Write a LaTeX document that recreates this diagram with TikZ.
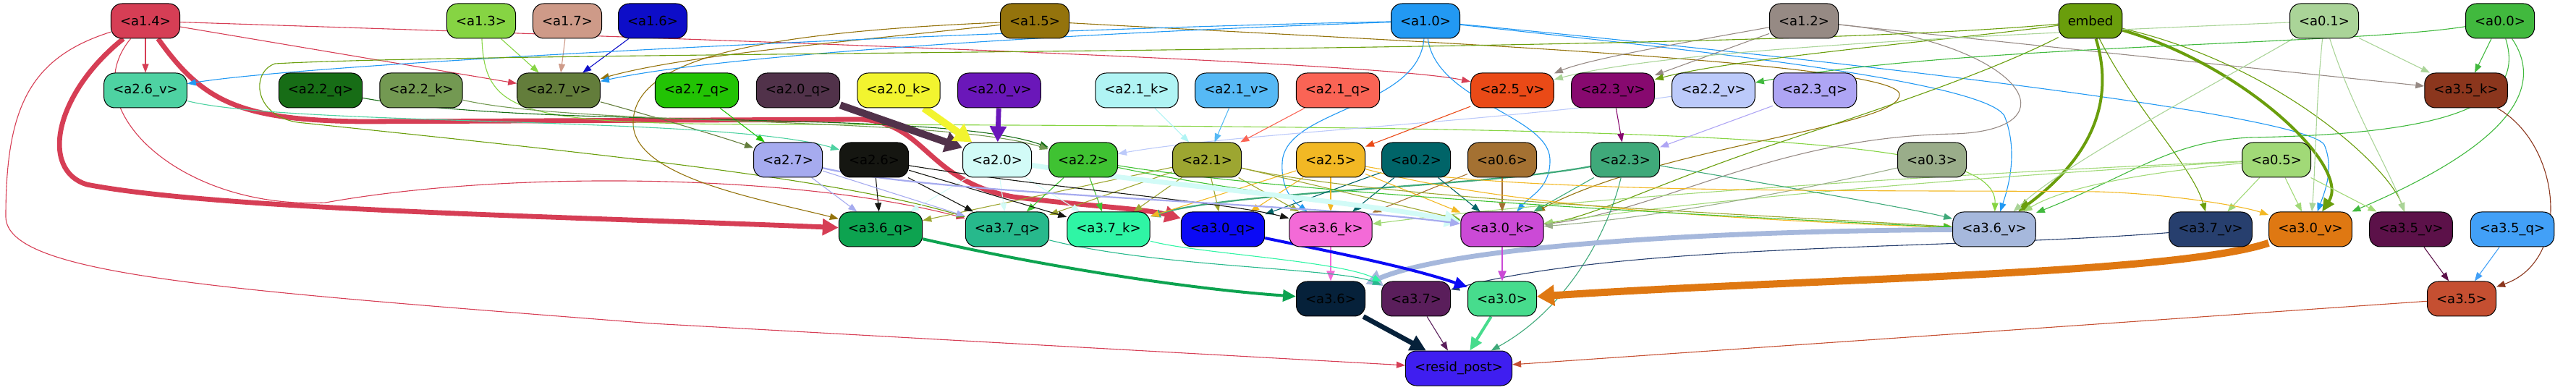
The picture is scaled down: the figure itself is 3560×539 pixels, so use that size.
\documentclass[tikz,border=0pt]{standalone}
\usepackage{fontspec}
\setmainfont{DejaVu Sans}
\usetikzlibrary{arrows.meta}
\pgfdeclarelayer{bg}
\pgfsetlayers{bg,main}
\definecolor{c14}{HTML}{D63E55}
\definecolor{c13}{HTML}{86D443}
\definecolor{c17}{HTML}{CE9A88}
\definecolor{c16}{HTML}{0D0DC8}
\definecolor{c15}{HTML}{94730C}
\definecolor{c10}{HTML}{2299F3}
\definecolor{c12}{HTML}{968A84}
\definecolor{cemb}{HTML}{6A9E0C}
\definecolor{c01}{HTML}{AAD498}
\definecolor{c00}{HTML}{41B93E}
\definecolor{c26v}{HTML}{4ED2A2}
\definecolor{c22q}{HTML}{176D16}
\definecolor{c22k}{HTML}{739952}
\definecolor{c27v}{HTML}{637D3B}
\definecolor{c27q}{HTML}{22C304}
\definecolor{c20q}{HTML}{51324A}
\definecolor{c20k}{HTML}{F2F42F}
\definecolor{c20v}{HTML}{6A17B9}
\definecolor{c21k}{HTML}{B0F4F4}
\definecolor{c21v}{HTML}{56B9F5}
\definecolor{c21q}{HTML}{FA6455}
\definecolor{c25v}{HTML}{EA4A17}
\definecolor{c23v}{HTML}{87096F}
\definecolor{c22v}{HTML}{BCCAFA}
\definecolor{c23q}{HTML}{AEA5F4}
\definecolor{c35k}{HTML}{8B361D}
\definecolor{c27}{HTML}{A6ABEF}
\definecolor{c26}{HTML}{151611}
\definecolor{c20}{HTML}{D2FBF7}
\definecolor{c22}{HTML}{3FC232}
\definecolor{c21}{HTML}{9DA631}
\definecolor{c25}{HTML}{F2B824}
\definecolor{c02}{HTML}{006468}
\definecolor{c06}{HTML}{A47132}
\definecolor{c23}{HTML}{3FA97A}
\definecolor{c03}{HTML}{9AAD8A}
\definecolor{c05}{HTML}{A1D977}
\definecolor{c36q}{HTML}{0DA350}
\definecolor{c37q}{HTML}{27B98C}
\definecolor{c37k}{HTML}{2FF5A5}
\definecolor{c30q}{HTML}{0B0AF5}
\definecolor{c36k}{HTML}{F36AD7}
\definecolor{c30k}{HTML}{CB4AD6}
\definecolor{c36v}{HTML}{A6B8DC}
\definecolor{c37v}{HTML}{273F6E}
\definecolor{c30v}{HTML}{DF7812}
\definecolor{c35v}{HTML}{5C1149}
\definecolor{c35q}{HTML}{42A0F7}
\definecolor{c36}{HTML}{06213A}
\definecolor{c37}{HTML}{5A1E5B}
\definecolor{c30}{HTML}{47DC8D}
\definecolor{c35}{HTML}{C54F31}
\definecolor{cres}{HTML}{3F1EF0}
\tikzset{
  box/.style={draw=black, line width=0.5pt, rounded corners=7.5pt, minimum height=24pt,
    inner xsep=6.3pt, inner ysep=0pt, font=\fontsize{9}{11}\selectfont},
  e/.style={line width=0.55pt, -{Triangle[length=6pt,width=4.5pt]}},
  e2/.style={line width=1.1pt, -{Triangle[length=7pt,width=5.5pt]}},
  e3/.style={line width=2pt, -{Triangle[length=9pt,width=8pt]}},
  e4/.style={line width=3.4pt, -{Triangle[length=11pt,width=11pt]}},
  e5/.style={line width=5pt, -{Triangle[length=12pt,width=14pt]}}
}
\begin{document}
\begin{tikzpicture}[x=0.5pt,y=-0.5pt]
\useasboundingbox (0,0) rectangle (3560,539);
\node[box,fill=c14] (n14) at (201,29) {<a1.4>};
\node[box,fill=c13] (n13) at (665,29) {<a1.3>};
\node[box,fill=c17] (n17) at (784,29) {<a1.7>};
\node[box,fill=c16] (n16) at (902,29) {<a1.6>};
\node[box,fill=c15] (n15) at (1430,29) {<a1.5>};
\node[box,fill=c10] (n10) at (1970,29) {<a1.0>};
\node[box,fill=c12] (n12) at (2493,29) {<a1.2>};
\node[box,fill=cemb] (nemb) at (2889,29) {embed};
\node[box,fill=c01] (n01) at (3212,29) {<a0.1>};
\node[box,fill=c00] (n00) at (3455,29) {<a0.0>};
\node[box,fill=c26v] (n26v) at (201,125) {<a2.6\_v>};
\node[box,fill=c22q] (n22q) at (443,125) {<a2.2\_q>};
\node[box,fill=c22k] (n22k) at (582,125) {<a2.2\_k>};
\node[box,fill=c27v] (n27v) at (772,125) {<a2.7\_v>};
\node[box,fill=c27q] (n27q) at (963,125) {<a2.7\_q>};
\node[box,fill=c20q] (n20q) at (1103,125) {<a2.0\_q>};
\node[box,fill=c20k] (n20k) at (1242,125) {<a2.0\_k>};
\node[box,fill=c20v] (n20v) at (1381,125) {<a2.0\_v>};
\node[box,fill=c21k] (n21k) at (1571,125) {<a2.1\_k>};
\node[box,fill=c21v] (n21v) at (1709,125) {<a2.1\_v>};
\node[box,fill=c21q] (n21q) at (1849,125) {<a2.1\_q>};
\node[box,fill=c25v] (n25v) at (2090,125) {<a2.5\_v>};
\node[box,fill=c23v] (n23v) at (2229,125) {<a2.3\_v>};
\node[box,fill=c22v] (n22v) at (2368,125) {<a2.2\_v>};
\node[box,fill=c23q] (n23q) at (2508,125) {<a2.3\_q>};
\node[box,fill=c35k] (n35k) at (3408,125) {<a3.5\_k>};
\node[box,fill=c27] (n27) at (1089,221) {<a2.7>};
\node[box,fill=c26] (n26) at (1208,221) {<a2.6>};
\node[box,fill=c20] (n20) at (1378,221) {<a2.0>};
\node[box,fill=c22] (n22) at (1497,221) {<a2.2>};
\node[box,fill=c21] (n21) at (1668,221) {<a2.1>};
\node[box,fill=c25] (n25) at (1839,221) {<a2.5>};
\node[box,fill=c02] (n02) at (1957,221) {<a0.2>};
\node[box,fill=c06] (n06) at (2076,221) {<a0.6>};
\node[box,fill=c23] (n23) at (2246,221) {<a2.3>};
\node[box,fill=c03] (n03) at (2670,221) {<a0.3>};
\node[box,fill=c05] (n05) at (3146,221) {<a0.5>};
\node[box,fill=c36q] (n36q) at (1217,317) {<a3.6\_q>};
\node[box,fill=c37q] (n37q) at (1392,317) {<a3.7\_q>};
\node[box,fill=c37k] (n37k) at (1532,317) {<a3.7\_k>};
\node[box,fill=c30q] (n30q) at (1690,317) {<a3.0\_q>};
\node[box,fill=c36k] (n36k) at (1839,317) {<a3.6\_k>};
\node[box,fill=c30k] (n30k) at (2076,317) {<a3.0\_k>};
\node[box,fill=c36v] (n36v) at (2756,317) {<a3.6\_v>};
\node[box,fill=c37v] (n37v) at (3055,317) {<a3.7\_v>};
\node[box,fill=c30v] (n30v) at (3193,317) {<a3.0\_v>};
\node[box,fill=c35v] (n35v) at (3332,317) {<a3.5\_v>};
\node[box,fill=c35q] (n35q) at (3472,317) {<a3.5\_q>};
\node[box,fill=c36] (n36) at (1839,413) {<a3.6>};
\node[box,fill=c37] (n37) at (1957,413) {<a3.7>};
\node[box,fill=c30] (n30) at (2076,413) {<a3.0>};
\node[box,fill=c35] (n35) at (3402,413) {<a3.5>};
\node[box,fill=cres] (nres) at (2016,509) {<resid\_post>};
\begin{pgfonlayer}{bg}
\draw[e,c14] (n14) -- (n26v);
\draw[e,c14] (n14) -- (n27v);
\draw[e,c14] (n14) .. controls (1000,55) and (1900,85) .. (n25v);
\draw[e4,c14] (n14) .. controls (75,130) and (55,235) .. (120,255) .. controls (300,290) and (800,300) .. (n36q);
\draw[e4,c14] (n14) .. controls (280,140) and (330,166) .. (500,168) -- (1190,165) .. controls (1280,170) and (1280,250) .. (1400,272) .. controls (1500,285) and (1580,288) .. (n30q);
\draw[e,c14] (n14) .. controls (100,150) and (250,290) .. (450,280) .. controls (700,235) and (1100,240) .. (n37q);
\draw[e,c14] (n14) .. controls (40,80) and (8,150) .. (8,300) .. controls (10,380) and (300,400) .. (900,447) -- (nres);
\draw[e,c13] (n13) -- (n27v);
\draw[e,c17] (n17) -- (n27v);
\draw[e,c16] (n16) -- (n27v);
\draw[e,c13] (n13) .. controls (670,160) and (720,172) .. (1100,172) .. controls (2400,175) and (2760,190) .. (n36v);
\draw[e,c15] (n15) .. controls (1200,55) and (950,75) .. (n27v);
\draw[e,c15] (n15) .. controls (1050,45) and (875,80) .. (875,170) .. controls (875,245) and (1050,275) .. (n36q);
\draw[e,c15] (n15) .. controls (1900,55) and (2620,85) .. (2625,130) .. controls (2630,175) and (2300,200) .. (n30k);
\draw[e,c10] (n10) .. controls (1500,45) and (1000,75) .. (n27v);
\draw[e,c10] (n10) .. controls (1400,40) and (450,85) .. (n26v);
\draw[e,c10] (n10) .. controls (1960,150) and (1775,150) .. (1772,225) .. controls (1770,265) and (1790,280) .. (n36k);
\draw[e,c10] (n10) .. controls (1985,140) and (2140,160) .. (2142,220) .. controls (2143,260) and (2115,270) .. (n30k);
\draw[e,c10] (n10) .. controls (2300,60) and (3180,150) .. (3212,200) .. controls (3225,230) and (3215,260) .. (n30v);
\draw[e,c10] (n10) .. controls (2300,65) and (2740,110) .. (2770,160) .. controls (2790,210) and (2775,260) .. (n36v);
\draw[e,c12] (n12) .. controls (2350,55) and (2200,80) .. (n25v);
\draw[e,c12] (n12) -- (n23v);
\draw[e,c12] (n12) -- (n35k);
\draw[e,c12] (n12) .. controls (2800,60) and (2870,180) .. (2700,185) .. controls (2450,190) and (2300,290) .. (n30k);
\draw[e3,cemb] (nemb) .. controls (2920,130) and (2900,210) .. (n36v);
\draw[e3,cemb] (nemb) .. controls (3100,90) and (3250,230) .. (n30v);
\draw[e,cemb] (nemb) .. controls (2950,150) and (3030,230) .. (n37v);
\draw[e,cemb] (nemb) .. controls (3150,90) and (3300,230) .. (n35v);
\draw[e,cemb] (nemb) .. controls (2700,55) and (2400,80) .. (n23v);
\draw[e,cemb] (nemb) .. controls (2750,100) and (2600,150) .. (2450,200) .. controls (2300,250) and (2200,300) .. (n30k);
\draw[e,cemb] (nemb) .. controls (2400,75) and (700,70) .. (380,88) .. controls (345,100) and (350,165) .. (420,170) .. controls (800,210) and (1150,245) .. (n37q);
\draw[e,c01] (n01) -- (n35k);
\draw[e,c01] (n01) .. controls (2700,50) and (2300,70) .. (n25v);
\draw[e,c01] (n01) .. controls (3200,150) and (3200,230) .. (n30v);
\draw[e,c01] (n01) .. controls (3000,150) and (2850,230) .. (n36v);
\draw[e,c01] (n01) .. controls (3250,150) and (3300,230) .. (n35v);
\draw[e,c00] (n00) -- (n35k);
\draw[e,c00] (n00) .. controls (3250,62) and (2700,62) .. (n22v);
\draw[e,c00] (n00) .. controls (3530,140) and (3420,220) .. (n30v);
\draw[e,c00] (n00) .. controls (3490,140) and (3400,185) .. (3110,190) .. controls (3000,195) and (2950,240) .. (n36v);
\draw[e,c05] (n05) .. controls (2950,240) and (2850,260) .. (n36v);
\draw[e,c05] (n05) -- (n37v);
\draw[e,c05] (n05) -- (n30v);
\draw[e,c05] (n05) -- (n35v);
\draw[e,c05] (n05) .. controls (2800,240) and (2400,270) .. (n30k);
\draw[e,c05] (n05) .. controls (2800,235) and (2200,270) .. (n36k);
\draw[e,c03] (n03) .. controls (2500,260) and (2300,300) .. (n30k);
\draw[e,c23] (n23) -- (n30k);
\draw[e,c23] (n23) .. controls (2450,255) and (2650,290) .. (n36v);
\draw[e2,c23] (n23) .. controls (2050,258) and (1700,265) .. (n37k);
\draw[e,c23] (n23) .. controls (2220,330) and (2160,430) .. (nres);
\draw[e,c06] (n06) -- (n36k);
\draw[e,c06] (n06) -- (n30k);
\draw[e,c02] (n02) -- (n36k);
\draw[e,c02] (n02) -- (n30k);
\draw[e,c02] (n02) -- (n30q);
\draw[e,c25] (n25) -- (n36k);
\draw[e,c25] (n25) -- (n30k);
\draw[e,c25] (n25) -- (n37k);
\draw[e,c25] (n25) -- (n30q);
\draw[e,c25] (n25) .. controls (2100,290) and (2450,305) .. (n36v);
\draw[e,c25] (n25) .. controls (2100,270) and (2600,262) .. (2900,265) .. controls (3000,268) and (3100,285) .. (n30v);
\draw[e,c21] (n21) -- (n36q);
\draw[e,c21] (n21) -- (n37q);
\draw[e,c21] (n21) -- (n37k);
\draw[e,c21] (n21) -- (n30q);
\draw[e,c21] (n21) -- (n36k);
\draw[e,c21] (n21) -- (n30k);
\draw[e,c21] (n21) .. controls (1900,275) and (2400,295) .. (n36v);
\draw[e,c22] (n22) -- (n37q);
\draw[e,c22] (n22) -- (n37k);
\draw[e,c22] (n22) .. controls (1800,270) and (2400,300) .. (n36v);
\draw[e,c22] (n22) .. controls (1700,265) and (1950,290) .. (n30k);
\draw[e,c20] (n20) -- (n36q);
\draw[e,c20] (n20) -- (n37q);
\draw[e,c20] (n20) -- (n37k);
\draw[e4,c20] (n20) .. controls (1600,255) and (1850,275) .. (n30k);
\draw[e,c26] (n26) -- (n36q);
\draw[e,c26] (n26) -- (n37q);
\draw[e,c26] (n26) -- (n37k);
\draw[e,c26] (n26) .. controls (1450,260) and (1700,280) .. (n36k);
\draw[e,c27] (n27) -- (n36q);
\draw[e,c27] (n27) -- (n37q);
\draw[e2,c27] (n27) .. controls (1300,270) and (1800,280) .. (n30k);
\draw[e,c27q] (n27q) -- (n27);
\draw[e,c27v] (n27v) .. controls (900,160) and (1000,190) .. (n27);
\draw[e,c26v] (n26v) .. controls (400,175) and (1000,160) .. (n26);
\draw[e,c22q] (n22q) .. controls (750,180) and (1300,150) .. (n22);
\draw[e,c22k] (n22k) .. controls (800,175) and (1300,160) .. (n22);
\draw[e5,c20q] (n20q) -- (n20);
\draw[e5,c20k] (n20k) -- (n20);
\draw[e4,c20v] (n20v) -- (n20);
\draw[e,c22v] (n22v) .. controls (2050,170) and (1700,185) .. (n22);
\draw[e,c21k] (n21k) -- (n21);
\draw[e,c21v] (n21v) -- (n21);
\draw[e,c21q] (n21q) -- (n21);
\draw[e,c25v] (n25v) -- (n25);
\draw[e,c23v] (n23v) -- (n23);
\draw[e,c23q] (n23q) -- (n23);
\draw[e3,c36q] (n36q) .. controls (1450,370) and (1650,400) .. (n36);
\draw[e2,c36k] (n36k) -- (n36);
\draw[e4,c36v] (n36v) .. controls (2300,320) and (2000,345) .. (n36);
\draw[e,c37q] (n37q) .. controls (1600,370) and (1850,370) .. (n37);
\draw[e,c37k] (n37k) .. controls (1650,350) and (1850,360) .. (n37);
\draw[e,c37v] (n37v) .. controls (2700,345) and (2250,335) .. (n37);
\draw[e3,c30q] (n30q) .. controls (1850,350) and (1950,370) .. (n30);
\draw[e2,c30k] (n30k) -- (n30);
\draw[e5,c30v] (n30v) .. controls (3000,380) and (2500,385) .. (n30);
\draw[e,c35v] (n35v) -- (n35);
\draw[e,c35q] (n35q) -- (n35);
\draw[e,c35k] (n35k) .. controls (3540,200) and (3555,360) .. (n35);
\draw[e4,c36] (n36) -- (nres);
\draw[e,c37] (n37) -- (nres);
\draw[e3,c30] (n30) -- (nres);
\draw[e,c35] (n35) -- (nres);
\end{pgfonlayer}
\end{tikzpicture}
\end{document}
